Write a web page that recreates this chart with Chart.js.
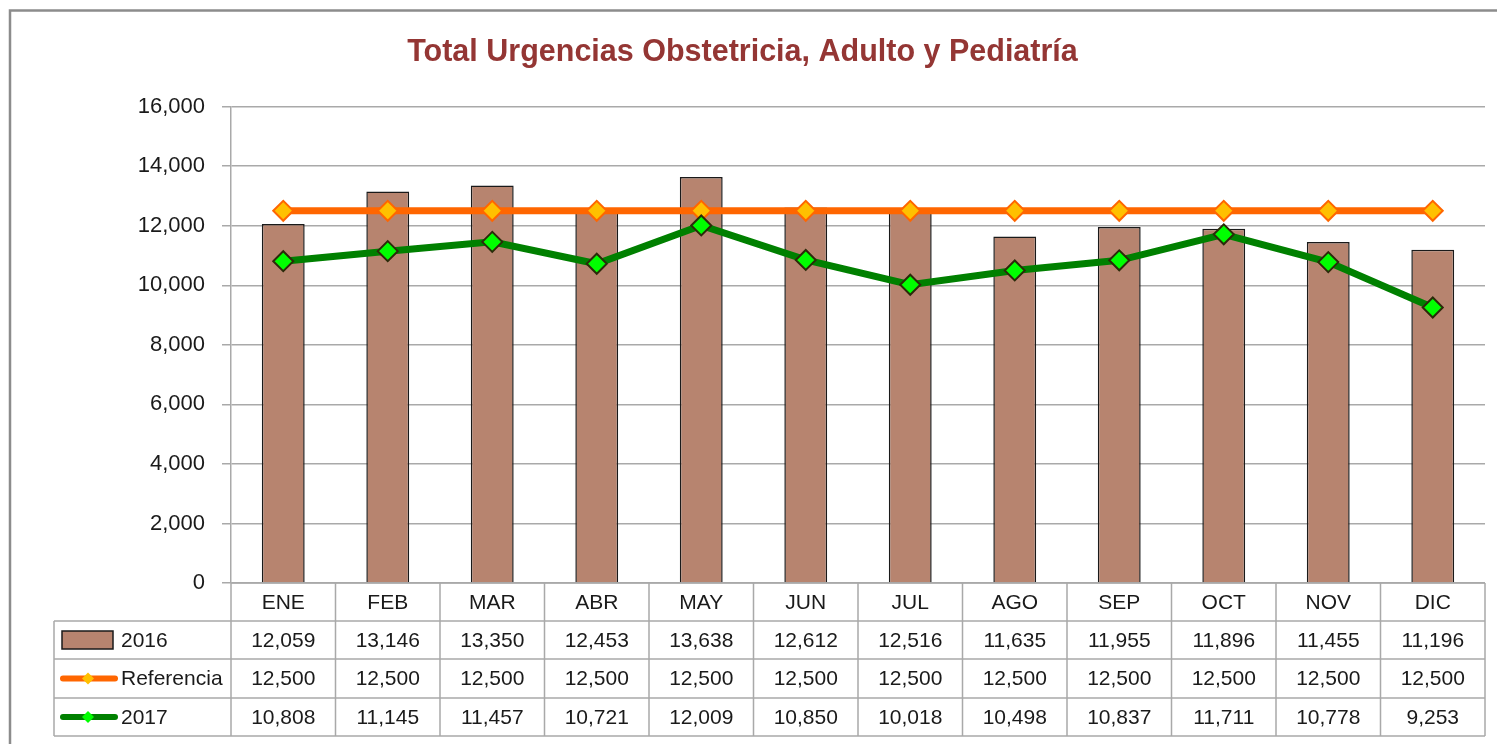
<!DOCTYPE html>
<html>
<head>
<meta charset="utf-8">
<script src="https://cdn.jsdelivr.net/npm/chart.js@4.4.1/dist/chart.umd.min.js"></script>
<style>
	body { margin: 0; background: #fff; }
	#wrap { width: 1497px; height: 744px; }
</style>
</head>
<body>
<div id="wrap"><canvas id="chart" width="1497" height="744"></canvas></div>
<script>
const months = [`ENE`, `FEB`, `MAR`, `ABR`, `MAY`, `JUN`, `JUL`, `AGO`, `SEP`, `OCT`, `NOV`, `DIC`];
const urgencias2016 = [12059, 13146, 13350, 12453, 13638, 12612, 12516, 11635, 11955, 11896, 11455, 11196];
const referencia = [12500, 12500, 12500, 12500, 12500, 12500, 12500, 12500, 12500, 12500, 12500, 12500];
const urgencias2017 = [10808, 11145, 11457, 10721, 12009, 10850, 10018, 10498, 10837, 11711, 10778, 9253];
const yTicks = [0, 2000, 4000, 6000, 8000, 10000, 12000, 14000, 16000];

const fmt = n => n.toLocaleString(`en-US`);
const textFont = `21px "Liberation Sans", Arial, sans-serif`;
const gridGray = `#a9a9a9`;

// outer frame like the excel chart area
const framePlugin = {
	id: `frame`,
	beforeDraw(chart) {
		const ctx = chart.ctx;
		ctx.save();
		ctx.strokeStyle = `#8c8c8c`;
		ctx.lineWidth = 2.5;
		ctx.strokeRect(10, 10.5, 1600, 900);
		ctx.restore();
	}
};

// data table under the plot, columns follow the x scale
const tablePlugin = {
	id: `dataTable`,
	afterDraw(chart) {
		const ctx = chart.ctx;
		const area = chart.chartArea;
		const xs = chart.scales.x;
		const half = (area.right - area.left) / months.length / 2;
		const legendLeft = 54;
		const rows = [area.bottom, area.bottom + 38, area.bottom + 76, area.bottom + 115, area.bottom + 153];
		ctx.save();
		ctx.strokeStyle = gridGray;
		ctx.lineWidth = 1.5;

		// horizontal lines
		ctx.beginPath();
		ctx.moveTo(area.left, rows[0]); ctx.lineTo(area.right, rows[0]);
		for (let i = 1; i < rows.length; i++) {
			ctx.moveTo(legendLeft, rows[i]); ctx.lineTo(area.right, rows[i]);
		}
		// vertical lines
		ctx.moveTo(legendLeft, rows[1]); ctx.lineTo(legendLeft, rows[4]);
		months.forEach((m, i) => {
			const x = xs.getPixelForValue(i) - half;
			ctx.moveTo(x, rows[0]); ctx.lineTo(x, rows[4]);
		});
		ctx.moveTo(area.right, rows[0]); ctx.lineTo(area.right, rows[4]);
		ctx.stroke();

		ctx.fillStyle = `#1a1a1a`;
		ctx.font = textFont;
		ctx.textAlign = `center`;
		ctx.textBaseline = `middle`;
		months.forEach((m, i) => {
			const x = xs.getPixelForValue(i);
			ctx.fillText(m, x, (rows[0] + rows[1]) / 2 + 1);
		});
		chart.data.datasets.forEach((ds, r) => {
			const yMid = (rows[r + 1] + rows[r + 2]) / 2 + 1;
			ds.data.forEach((v, i) => {
				ctx.fillText(fmt(v), xs.getPixelForValue(i), yMid);
			});
		});

		// legend keys
		const legendRow = [0, 1, 2].map(r => (rows[r + 1] + rows[r + 2]) / 2);
		ctx.fillStyle = `#b7846f`;
		ctx.strokeStyle = `#1a1a1a`;
		ctx.lineWidth = 1.5;
		ctx.fillRect(62, legendRow[0] - 9, 51, 18);
		ctx.strokeRect(62, legendRow[0] - 9, 51, 18);

		const lineKey = (y, line, fill) => {
			ctx.strokeStyle = line;
			ctx.lineWidth = 6;
			ctx.lineCap = `round`;
			ctx.beginPath();
			ctx.moveTo(63, y); ctx.lineTo(115, y);
			ctx.stroke();
			ctx.fillStyle = fill;
			ctx.beginPath();
			ctx.moveTo(88, y - 6); ctx.lineTo(94, y); ctx.lineTo(88, y + 6); ctx.lineTo(82, y);
			ctx.closePath();
			ctx.fill();
		};
		lineKey(legendRow[1], `#ff6600`, `#ffc000`);
		lineKey(legendRow[2], `#008000`, `#00ff00`);

		ctx.fillStyle = `#1a1a1a`;
		ctx.textAlign = `left`;
		ctx.fillText(`2016`, 121, legendRow[0] + 1);
		ctx.fillText(`Referencia`, 121, legendRow[1] + 1);
		ctx.fillText(`2017`, 121, legendRow[2] + 1);
		ctx.restore();
	}
};

new Chart(document.getElementById(`chart`), {
	type: `bar`,
	data: {
		labels: months,
		datasets: [
			{
				label: `2016`,
				data: urgencias2016,
				backgroundColor: `#b7846f`,
				borderColor: `#1a1a1a`,
				borderWidth: 1.5,
				barPercentage: 0.41,
				categoryPercentage: 1,
				order: 3
			},
			{
				type: `line`,
				label: `Referencia`,
				data: referencia,
				borderColor: `#ff6600`,
				borderWidth: 7,
				pointStyle: `rectRot`,
				pointRadius: 10,
				pointBackgroundColor: `#ffc000`,
				pointBorderColor: `#ff6600`,
				pointBorderWidth: 2,
				tension: 0,
				order: 2
			},
			{
				type: `line`,
				label: `2017`,
				data: urgencias2017,
				borderColor: `#008000`,
				borderWidth: 7,
				pointStyle: `rectRot`,
				pointRadius: 10,
				pointBackgroundColor: `#00ff00`,
				pointBorderColor: `#2b2b0a`,
				pointBorderWidth: 2,
				tension: 0,
				order: 1
			}
		]
	},
	options: {
		responsive: false,
		animation: false,
		layout: { padding: { left: 0, right: 12, top: 0, bottom: 161 } },
		plugins: {
			legend: { display: false },
			tooltip: { enabled: false },
			title: {
				display: true,
				text: `Total Urgencias Obstetricia, Adulto y Pediatría`,
				color: `#943634`,
				font: { family: `"Liberation Sans Narrow", "Arial Narrow", "Liberation Sans", sans-serif`, size: 30.5, weight: `bold` },
				padding: { top: 34, bottom: 36 }
			}
		},
		scales: {
			x: { display: false, offset: true },
			y: {
				min: 0,
				max: 16000,
				afterFit(scale) { scale.width = 231; },
				afterBuildTicks(scale) { scale.ticks = yTicks.map(v => ({ value: v })); },
				ticks: {
					callback: v => fmt(v),
					color: `#1a1a1a`,
					padding: 17,
					font: { family: `"Liberation Sans", Arial, sans-serif`, size: 22 }
				},
				grid: { color: gridGray, lineWidth: 1.5, tickLength: 9 },
				border: { display: true, color: gridGray, width: 1.5 }
			}
		}
	},
	plugins: [framePlugin, tablePlugin]
});
</script>
</body>
</html>
